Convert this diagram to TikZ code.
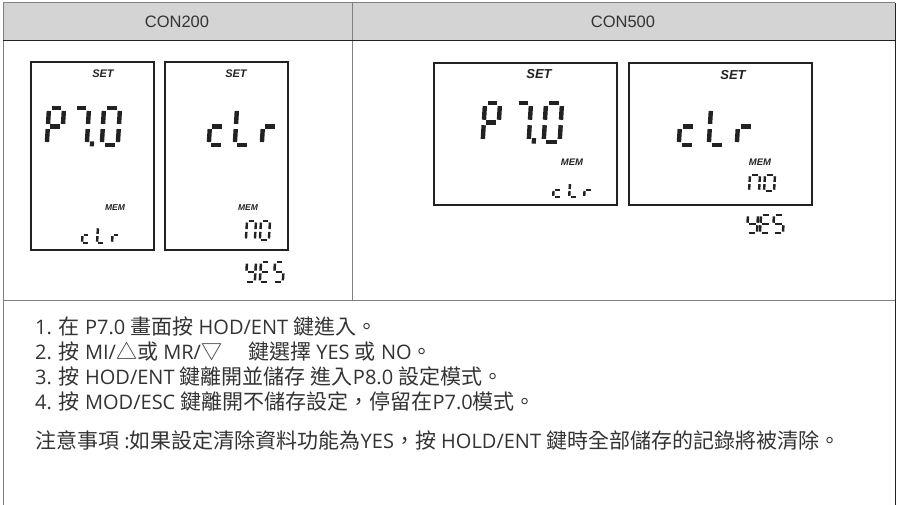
\documentclass[tikz,border=0pt]{standalone}
\usepackage{fontspec}
\setmainfont{Liberation Sans}
\newfontfamily\cjk{Noto Sans CJK TC}
\newfontfamily\lat{Open Sans}
\definecolor{hdrgray}{HTML}{D4D4D4}
\definecolor{linegray}{HTML}{808080}
\definecolor{dark}{HTML}{222222}
\definecolor{txt}{HTML}{333333}
\def\lcdsega{\draw (0.17,0)--(0.83,0);}
\def\lcdsegb{\draw (1,0.08)--(1,0.43);}
\def\lcdsegc{\draw (1,0.57)--(1,0.92);}
\def\lcdsegd{\draw (0.17,1)--(0.83,1);}
\def\lcdsege{\draw (0,0.57)--(0,0.92);}
\def\lcdsegf{\draw (0,0.08)--(0,0.43);}
\def\lcdsegg{\draw (0.17,0.5)--(0.83,0.5);}
\def\lcdsegp{\fill (1.2,0.9) rectangle (1.48,1.04);}
\newcommand\lcdchar[6]{%
  \begin{scope}[shift={(#1,#2)},x=#3pt,y=-#4pt,xslant=0.06,line width=#5pt,line cap=butt,draw=dark,fill=dark]
    \foreach \s in {#6}{\csname lcdseg\s\endcsname}
  \end{scope}}
\newcommand\zh[1]{{\cjk\fontsize{21}{23}\selectfont #1}}
\tikzset{
  lcdbox/.style={draw=dark,line width=1.4pt},
  setlbl/.style={font=\bfseries\itshape\fontsize{11}{12}\selectfont,text=dark,inner sep=0pt},
  memlbl/.style={font=\bfseries\itshape\fontsize{8.5}{9}\selectfont,text=dark,inner sep=0pt},
  hdr/.style={font=\fontsize{16.5}{17}\selectfont,text=txt,inner sep=0pt},
  body/.style={font=\lat\fontsize{20}{23}\selectfont,text=txt,anchor=base west,inner sep=0pt},
}
\begin{document}
\begin{tikzpicture}[x=1pt,y=-1pt]
\useasboundingbox (0,0) rectangle (897,505);
% header
\fill[hdrgray] (3,3) rectangle (895,41);
\draw[linegray,line width=1pt] (3,3) -- (895,3);
\draw[linegray,line width=1pt] (3,3) -- (3,505);
\draw[dark,line width=1pt] (895,3) -- (895,505);
\draw[linegray,line width=1.2pt] (352.5,3) -- (352.5,300);
\draw[dark,line width=1pt] (3,41) -- (895,41);
\draw[linegray,line width=1pt] (3,300) -- (895,300);
\node[hdr] (h1) at (177,22) {CON200};
\node[hdr] (h2) at (623,22) {CON500};
% CON200 box 1
\draw[lcdbox] (31,62) rectangle (154,250);
\node[setlbl] (s1) at (103,74) {SET};
\lcdchar{49}{108}{15}{37}{4.4}{a,b,f,g,e}
\lcdchar{74}{108}{15}{37}{4.4}{a,b,c,p}
\lcdchar{104}{108}{16}{37}{4.4}{a,b,c,d,e,f}
\node[memlbl] (m1) at (115,208) {MEM};
\lcdchar{83}{227}{7}{16}{2.4}{g,e,d}
\lcdchar{98}{227}{7}{16}{2.4}{f,e,d}
\lcdchar{113}{227}{7}{16}{2.4}{g,e}
% CON200 box 2
\draw[lcdbox] (165,62) rectangle (288,250);
\node[setlbl] (s2) at (236,74) {SET};
\lcdchar{211}{108}{15}{37}{4.4}{g,e,d}
\lcdchar{237}{108}{15}{37}{4.4}{f,e,d}
\lcdchar{264}{108}{15}{37}{4.4}{g,e}
\node[memlbl] (m2) at (248,208) {MEM};
\lcdchar{247}{221}{9}{19}{2.4}{a,b,c,e,f}
\lcdchar{261}{221}{9}{19}{2.4}{a,b,c,d,e,f}
\lcdchar{247}{262}{9}{20}{2.5}{f,b,g,c,d}
\lcdchar{261}{262}{9}{20}{2.5}{a,f,g,e,d}
\lcdchar{275}{262}{9}{20}{2.5}{a,f,g,c,d}
% CON500 box 1
\draw[lcdbox] (434,63) rectangle (617,205);
\node[setlbl,font=\bfseries\itshape\fontsize{13}{14}\selectfont] (s3) at (539,74) {SET};
\lcdchar{485}{103}{15}{39}{4.4}{a,b,f,g,e}
\lcdchar{516}{103}{15}{39}{4.4}{a,b,c,p}
\lcdchar{546}{103}{16}{39}{4.4}{a,b,c,d,e,f}
\node[memlbl,font=\bfseries\itshape\fontsize{9.5}{10}\selectfont] (m3) at (572,162) {MEM};
\lcdchar{554}{183}{8}{14}{2.4}{g,e,d}
\lcdchar{570}{183}{8}{14}{2.4}{f,e,d}
\lcdchar{585}{183}{8}{14}{2.4}{g,e}
% CON500 box 2
\draw[lcdbox] (629,63) rectangle (812,205);
\node[setlbl,font=\bfseries\itshape\fontsize{13}{14}\selectfont] (s4) at (733,75) {SET};
\lcdchar{681}{108}{16}{37}{4.4}{g,e,d}
\lcdchar{711}{108}{16}{37}{4.4}{f,e,d}
\lcdchar{739}{108}{16}{37}{4.4}{g,e}
\node[memlbl,font=\bfseries\itshape\fontsize{9.5}{10}\selectfont] (m4) at (760,162) {MEM};
\lcdchar{750}{175}{10}{16}{2.4}{a,b,c,e,f}
\lcdchar{765}{175}{10}{16}{2.4}{a,b,c,d,e,f}
\lcdchar{748}{215}{10}{18}{2.5}{f,b,g,c,d}
\lcdchar{761}{215}{10}{18}{2.5}{a,f,g,e,d}
\lcdchar{774}{215}{10}{18}{2.5}{a,f,g,c,d}
% text
\node[body] (t1) at (35,334) {1. \zh{在} P7.0 \zh{畫面按} HOD/ENT \zh{鍵進入。}};
\node[body] (t2) at (35,359) {2. \zh{按} MI/\zh{△或} MR/\zh{▽　} \zh{鍵選擇} YES \zh{或} NO\zh{。}};
\node[body] (t3) at (35,384) {3. \zh{按} HOD/ENT \zh{鍵離開並儲存} \zh{進入}P8.0 \zh{設定模式。}};
\node[body] (t4) at (35,409) {4. \zh{按} MOD/ESC \zh{鍵離開不儲存設定，停留在}P7.0\zh{模式。}};
\node[body] (t5) at (35,448) {\zh{注意事項} :\zh{如果設定清除資料功能為}YES\zh{，按} HOLD/ENT \zh{鍵時全部儲存的記錄將被清除。}};
\end{tikzpicture}
\end{document}
